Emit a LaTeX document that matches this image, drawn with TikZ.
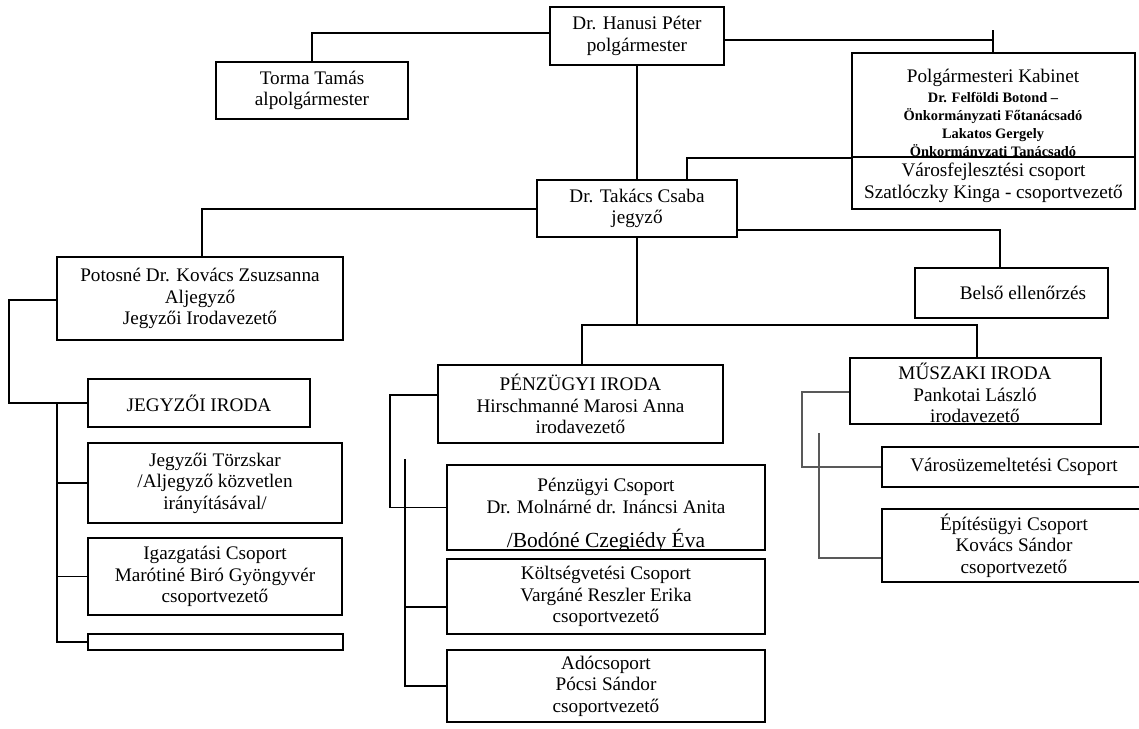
\documentclass[tikz,border=0pt]{standalone}
\usepackage{fontspec}
\setmainfont{Liberation Serif}
\newcommand\mainsize{\fontsize{19.2}{21.5}\selectfont}
\newcommand\smallbold{\bfseries\fontsize{14.4}{18.2}\selectfont}
\newcommand\mybox[6]{\node[box,minimum width={#3-#1},minimum height={#4-#2}] (#5) at ({(#1+#3)/2},{(#2+#4)/2}) {#6};}
\tikzset{
  box/.style={draw, line width=1.8pt, align=center, inner sep=0pt, font=\mainsize},
  txt/.style={align=center, inner sep=0pt, font=\mainsize},
  ln/.style={line width=1.8pt},
  lngray/.style={line width=1.8pt, draw=black!65},
}
\begin{document}
\begin{tikzpicture}[x=1pt,y=-1pt]
\useasboundingbox (0,0) rectangle (1139,728);
\clip (0,0) rectangle (1139,728);
\fill[white] (0,0) rectangle (1139,728);

% boxes
\mybox{550}{7}{724}{65}{mayor}{Dr. Hanusi Péter\\polgármester}
\mybox{216}{62}{408}{119}{torma}{Torma Tamás\\alpolgármester}
\mybox{852}{53}{1135}{157}{kab}{}
\mybox{852}{157}{1135}{209}{varos}{Városfejlesztési csoport\\Szatlóczky Kinga - csoportvezető}
\mybox{537}{180}{737}{237}{takacs}{Dr. Takács Csaba\\jegyző}
\mybox{57}{257}{343}{340}{pot}{Potosné Dr. Kovács Zsuzsanna\\Aljegyző\\Jegyzői Irodavezető}
\mybox{88}{379}{310}{427}{jegy}{JEGYZŐI IRODA}
\mybox{88}{443}{342}{523}{torzs}{Jegyzői Törzskar\\/Aljegyző közvetlen\\irányításával/}
\mybox{88}{538}{342}{615}{igaz}{Igazgatási Csoport\\Marótiné Biró Gyöngyvér\\csoportvezető}
\mybox{88}{634}{343}{650}{blank}{}
\mybox{915}{268}{1108}{318}{belso}{}
\mybox{438}{365}{723}{443}{penz}{PÉNZÜGYI IRODA\\Hirschmanné Marosi Anna\\irodavezető}
\mybox{447}{465}{765}{550}{pcs}{}
\mybox{447}{559}{765}{634}{kolt}{Költségvetési Csoport\\Vargáné Reszler Erika\\csoportvezető}
\mybox{447}{650}{765}{722}{ado}{Adócsoport\\Pócsi Sándor\\csoportvezető}
\mybox{850}{358}{1101}{424}{musz}{}
\mybox{882}{447}{1146}{487}{vuz}{Városüzemeltetési Csoport}
\mybox{882}{509}{1146}{582}{epit}{Építésügyi Csoport\\Kovács Sándor\\csoportvezető}

% clipped / offset texts
\begin{scope}
  \clip (kab.north west) rectangle (kab.south east);
  \node[txt] (kabt) at (993,78) {Polgármesteri Kabinet};
  \node[txt, font=\smallbold] (kabs) at (993,126) {Dr. Felföldi Botond –\\Önkormányzati Főtanácsadó\\Lakatos Gergely\\Önkormányzati Tanácsadó};
\end{scope}
\begin{scope}
  \clip (pcs.north west) rectangle (pcs.south east);
  \node[txt] (pcst) at (606,496) {Pénzügyi Csoport\\Dr. Molnárné dr. Ináncsi Anita};
  \node[txt, anchor=base, font=\fontsize{21.5}{24}\selectfont] (pcsb) at (606,547) {/Bodóné Czegiédy Éva};
\end{scope}
\begin{scope}
  \clip (musz.north west) rectangle (musz.south east);
  \node[txt] (muszt) at (975,393) {MŰSZAKI IRODA\\Pankotai László\\irodavezető};
\end{scope}
\node[txt] (belsot) at (1023,293) {Belső ellenőrzés};

% connectors
\coordinate (a1) at (312,33);
\draw[ln] (mayor.west |- a1) -| (torma.north -| a1);
\coordinate (a2) at (993,40);
\draw[ln] (mayor.east |- a2) -| (kab.north -| a2);
\draw[ln] (kab.north -| a2) -- ++(0,-22);
\draw[ln] (mayor.south) -- (takacs.north);
\coordinate (a3) at (687,157);
\draw[ln] (takacs.north -| a3) |- (kab.south west);
\coordinate (a4) at (202,209);
\draw[ln] (takacs.west |- a4) -| (pot.north -| a4);
\coordinate (a5) at (1000,230);
\draw[ln] (takacs.east |- a5) -| (belso.north -| a5);
\coordinate (a7) at (582,325);
\coordinate (a8) at (977,325);
\draw[ln] (takacs.south) -- (takacs.south |- a7);
\draw[ln] (penz.north -| a7) -- (a7) -- (a8) -- (musz.north -| a8);
% left branch
\coordinate (a9) at (9,300);
\draw[ln] (pot.west |- a9) -- (a9) |- (jegy.west);
\coordinate (b1) at (57,403);
\draw[ln] (b1) |- (blank.west);
\draw[ln] (b1 |- torzs.west) -- (torzs.west);
\draw[ln] (b1 |- igaz.west) -- (igaz.west);
% penzugyi branch
\coordinate (c1) at (390,395);
\draw[ln] (penz.west |- c1) -- (c1) |- (pcs.west);
\coordinate (c2) at (405,459);
\draw[ln] (c2) |- (ado.west);
\coordinate (c3) at (405,607);
\draw[ln] (c3) -- (kolt.west |- c3);
% muszaki branch
\coordinate (d1) at (802,392);
\draw[lngray] (musz.west |- d1) -- (d1) |- (vuz.west);
\coordinate (d2) at (819,433);
\coordinate (d3) at (819,558);
\draw[lngray] (d2) -- (d3) -- (epit.west |- d3);
\end{tikzpicture}
\end{document}
